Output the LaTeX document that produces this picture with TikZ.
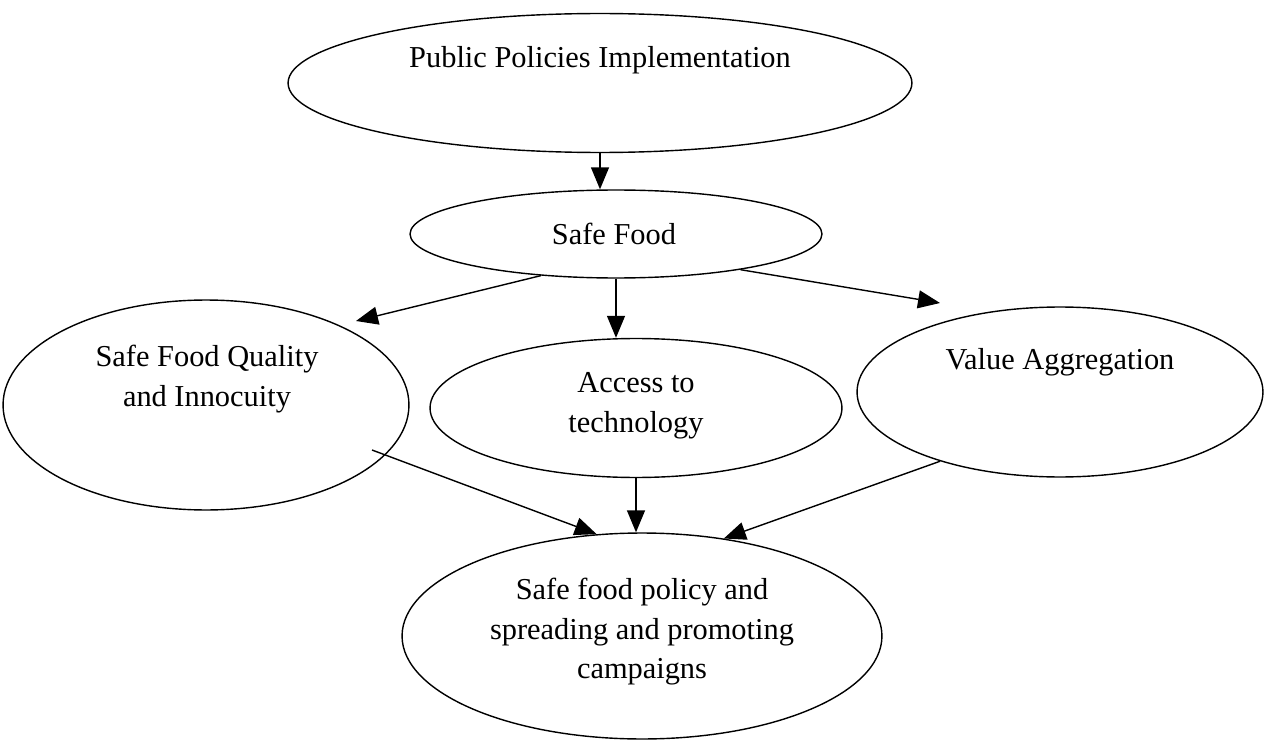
\documentclass[tikz,border=0pt]{standalone}
\usepackage{fontspec}
\setmainfont{Liberation Serif}
\usetikzlibrary{shapes.geometric,arrows.meta}
\tikzset{
  bubble/.style={draw, ellipse, line width=0.8pt, inner sep=0pt},
  words/.style={align=center, font=\fontsize{17.3pt}{22.5pt}\selectfont},
  flow/.style={line width=0.8pt, -{Triangle[length=0.44cm,width=0.36cm]}}
}
\begin{document}
\begin{tikzpicture}[x=0.02cm,y=-0.02cm]
    \useasboundingbox (0,0) rectangle (1265,740);
    % Top
    \node[bubble, minimum width=12.48cm, minimum height=2.78cm] (pub) at (600,83) {};
    \node[words] (pubtxt) at (600,60) {Public Policies Implementation};
    % Middle
    \node[bubble, minimum width=8.24cm, minimum height=1.76cm] (safe) at (616,234) {};
    \node[words] (safetxt) at (614,234) {Safe Food};
    % Row of three
    \node[bubble, minimum width=8.12cm, minimum height=4.2cm] (qual) at (206,405) {};
    \node[words] (qualtxt) at (207,379) {Safe Food Quality\\and Innocuity};
    \node[bubble, minimum width=8.24cm, minimum height=2.78cm] (tech) at (636,408) {};
    \node[words] (techtxt) at (636,406) {Access to\\technology};
    \node[bubble, minimum width=8.12cm, minimum height=3.4cm] (val) at (1060,392) {};
    \node[words] (valtxt) at (1060,362) {Value Aggregation};
    % Bottom
    \node[bubble, minimum width=9.6cm, minimum height=4.12cm] (pol) at (642,636) {};
    \node[words] (poltxt) at (642,632) {Safe food policy and\\spreading and promoting\\campaigns};

    % Arrows
    \coordinate (qualtip) at (356,321);
    \coordinate (valtip) at (940,303);
    \coordinate (qualstart) at (372,450);
    \draw[flow] (pub.south) -- (pub.south |- safe.north);
    \draw[flow] (safe.209) -- (qualtip);
    \draw[flow] (safe.south) -- (safe.south |- tech.north);
    \draw[flow] (safe.-16) -- (valtip);
    \draw[flow] (qualstart) -- (pol.114);
    \draw[flow] (tech.south) -- (tech.south |- pol.north);
    \draw[flow] (val.210) -- (pol.50);
\end{tikzpicture}
\end{document}
